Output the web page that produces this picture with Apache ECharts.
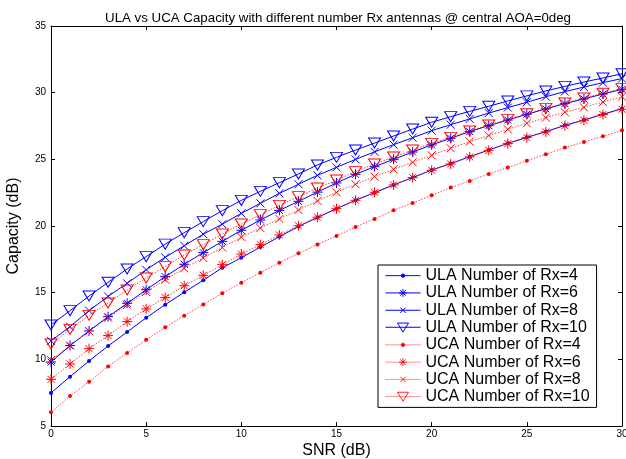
<!DOCTYPE html>
<html>
<head>
<meta charset="utf-8">
<script src="https://cdn.jsdelivr.net/npm/echarts@6/dist/echarts.min.js"></script>
<style>
html,body{margin:0;padding:0;background:#fff;}
#chart{width:626px;height:459px;}
</style>
</head>
<body>
<div id="chart"></div>
<script>
const snr = [0,1,2,3,4,5,6,7,8,9,10,11,12,13,14,15,16,17,18,19,20,21,22,23,24,25,26,27,28,29,30];
const xTicks = [0,5,10,15,20,25,30];
const yTicks = [5,10,15,20,25,30,35];
const ula4  = [7.48,8.7,9.88,11.0,12.05,13.12,14.1,15.03,15.93,16.87,17.62,18.42,19.2,19.96,20.64,21.3,21.93,22.5,23.08,23.63,24.2,24.68,25.2,25.7,26.2,26.65,27.08,27.55,27.95,28.38,28.8];
const ula6  = [9.8,11.03,12.13,13.2,14.2,15.22,16.2,17.13,18.0,18.85,19.68,20.45,21.17,21.85,22.54,23.23,23.88,24.45,25.0,25.55,26.08,26.58,27.08,27.53,27.95,28.38,28.78,29.18,29.53,29.9,30.25];
const ula8  = [11.38,12.45,13.65,14.72,15.7,16.72,17.65,18.52,19.39,20.14,20.95,21.7,22.45,23.13,23.8,24.4,25.0,25.56,26.1,26.62,27.15,27.6,28.03,28.47,28.88,29.28,29.7,30.08,30.42,30.75,31.06];
const ula10 = [12.58,13.65,14.75,15.78,16.78,17.7,18.64,19.5,20.33,21.15,21.92,22.6,23.25,23.9,24.58,25.15,25.7,26.22,26.75,27.27,27.78,28.2,28.6,28.98,29.38,29.76,30.13,30.47,30.8,31.1,31.42];
const uca4  = [6.03,7.25,8.32,9.47,10.47,11.47,12.4,13.27,14.12,14.95,15.75,16.5,17.25,17.95,18.62,19.25,19.93,20.53,21.18,21.73,22.3,22.88,23.38,23.9,24.38,24.9,25.38,25.88,26.3,26.73,27.18];
const uca6  = [8.5,9.65,10.8,11.78,12.83,13.78,14.63,15.52,16.3,17.1,17.9,18.6,19.33,20.02,20.66,21.3,21.93,22.53,23.08,23.63,24.18,24.65,25.18,25.68,26.18,26.63,27.06,27.52,27.93,28.36,28.76];
const uca8  = [9.95,11.03,12.1,13.12,14.08,15.05,15.97,16.83,17.6,18.38,19.17,19.85,20.53,21.2,21.88,22.53,23.13,23.7,24.25,24.78,25.3,25.83,26.33,26.78,27.25,27.7,28.13,28.53,28.9,29.3,29.7];
const uca10 = [11.15,12.25,13.3,14.22,15.2,16.1,16.95,17.83,18.6,19.4,20.15,20.85,21.55,22.2,22.85,23.45,24.08,24.65,25.17,25.7,26.2,26.65,27.13,27.57,28.0,28.42,28.82,29.22,29.6,29.96,30.3];
const seriesNames = ['ULA Number of Rx=4','ULA Number of Rx=6','ULA Number of Rx=8','ULA Number of Rx=10','UCA Number of Rx=4','UCA Number of Rx=6','UCA Number of Rx=8','UCA Number of Rx=10'];
const seriesData = [ula4, ula6, ula8, ula10, uca4, uca6, uca8, uca10];

const BLUE = '#0000ff', RED = '#ff0000';
const STAR = 'path://M5,0L5,10M0,5L10,5M1.5,1.5L8.5,8.5M8.5,1.5L1.5,8.5';
const XMARK = 'path://M0,0L10,10M10,0L0,10';
const TRI = 'path://M0,0L10,0L5,8.66Z';
const markers = [
  {symbol:'circle', size:4, filled:true},
  {symbol:STAR, size:10, filled:false},
  {symbol:XMARK, size:8, filled:false},
  {symbol:TRI, size:[12,10], filled:false}
];

// legend icons: line + marker drawn in a 35x12 box
const LINE_SOLID = 'M0,6L35,6';
let LINE_DOT = '';
for (let i = 0; i < 35; i += 2) LINE_DOT += 'M' + i + ',6L' + (i + 1) + ',6';
const ICON_MARK = [
  'M19.2,6A1.7,1.7,0,1,1,15.8,6A1.7,1.7,0,1,1,19.2,6Z',
  'M17.5,2L17.5,10M13.5,6L21.5,6M14.7,3.2L20.3,8.8M20.3,3.2L14.7,8.8',
  'M14.8,3.3L20.2,8.7M20.2,3.3L14.8,8.7',
  'M12,1.8L23,1.8L17.5,10.8Z'
];

const series = seriesData.map((vals, i) => {
  const isUla = i < 4;
  const col = isUla ? BLUE : RED;
  const m = markers[i % 4];
  return {
    name: seriesNames[i],
    type: 'line',
    data: snr.map((x, k) => [x, vals[k]]),
    symbol: m.symbol,
    symbolSize: m.size,
    symbolKeepAspect: false,
    showAllSymbol: true,
    showSymbol: true,
    lineStyle: isUla ? {color: col, width: 1, type: 'solid'} : {color: 'rgba(255,0,0,0.75)', width: 1, type: [1.5, 1.5]},
    itemStyle: m.filled ? {color: col, borderColor: col, borderWidth: 0} : {color: 'rgba(0,0,0,0)', borderColor: col, borderWidth: 1},
    emphasis: {disabled: true},
    z: 2 + i
  };
});

const legendData = seriesNames.map((n, i) => {
  const isUla = i < 4;
  const col = isUla ? BLUE : RED;
  const k = i % 4;
  return {
    name: n,
    icon: 'path://' + (isUla ? LINE_SOLID : LINE_DOT) + ICON_MARK[k],
    itemStyle: {color: k === 3 ? 'rgba(0,0,0,0)' : col, borderColor: isUla ? col : 'rgba(255,0,0,0.85)', borderWidth: 1}
  };
});

const axisCommon = {
  type: 'value',
  axisLine: {show: true, onZero: false, lineStyle: {color: '#000', width: 1}},
  axisTick: {show: true, inside: true, length: 4, lineStyle: {color: '#000', width: 1}},
  splitLine: {show: false}
};

const chart = echarts.init(document.getElementById('chart'), null, {renderer: 'canvas'});
chart.setOption({
  animation: false,
  backgroundColor: '#fff',
  title: {
    text: 'ULA vs UCA Capacity with different number Rx antennas @ central AOA=0deg',
    left: 333, top: 7, textAlign: 'center',
    textStyle: {fontFamily: 'Liberation Sans, Arial', fontSize: 13.3, fontWeight: 'normal', color: '#000'}
  },
  grid: {left: 51, right: 4, top: 26, bottom: 33, containLabel: false, outerBoundsMode: 'none'},
  xAxis: [
    Object.assign({}, axisCommon, {
      position: 'bottom', min: xTicks[0], max: xTicks[xTicks.length-1], interval: xTicks[1]-xTicks[0],
      name: 'SNR (dB)', nameLocation: 'middle', nameGap: 17, nameMoveOverlap: false,
      nameTextStyle: {fontFamily: 'Liberation Sans, Arial', fontSize: 16, color: '#000'},
      axisLabel: {color: '#000', fontFamily: 'Liberation Sans, Arial', fontSize: 10, margin: 3}
    }),
    Object.assign({}, axisCommon, {
      position: 'top', min: xTicks[0], max: xTicks[xTicks.length-1], interval: xTicks[1]-xTicks[0],
      axisLabel: {show: false}
    })
  ],
  yAxis: [
    Object.assign({}, axisCommon, {
      position: 'left', min: yTicks[0], max: yTicks[yTicks.length-1], interval: yTicks[1]-yTicks[0],
      name: 'Capacity (dB)', nameLocation: 'middle', nameGap: 29,
      nameTextStyle: {fontFamily: 'Liberation Sans, Arial', fontSize: 16, color: '#000'},
      axisLabel: {color: '#000', fontFamily: 'Liberation Sans, Arial', fontSize: 10, margin: 5}
    }),
    Object.assign({}, axisCommon, {
      position: 'right', min: yTicks[0], max: yTicks[yTicks.length-1], interval: yTicks[1]-yTicks[0],
      axisLabel: {show: false}
    })
  ],
  legend: {
    orient: 'vertical',
    left: 378, top: 265,
    backgroundColor: '#fff',
    borderColor: '#000', borderWidth: 1, borderRadius: 0,
    padding: [2, 7, 2, 7],
    itemWidth: 35, itemHeight: 12, itemGap: 0,
    symbolKeepAspect: true,
    selectedMode: false,
    textStyle: {fontFamily: 'Liberation Sans, Arial', fontSize: 16, color: '#000', lineHeight: 17.3},
    data: legendData
  },
  series: series
});
</script>
</body>
</html>
